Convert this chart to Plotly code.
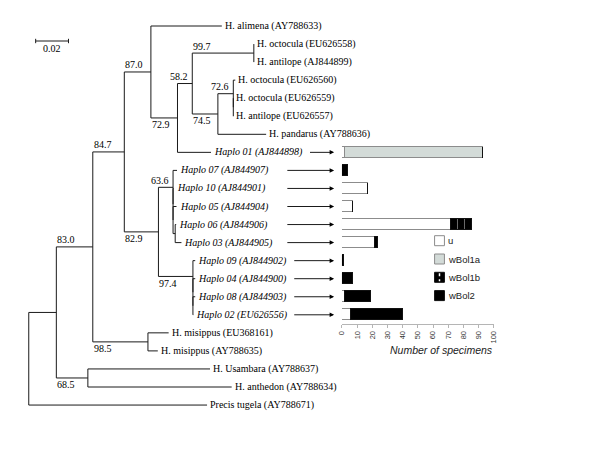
import plotly.graph_objects as go

# ---------------- data ----------------
# tip labels (accession -> taxon name)
SPECIES = {
    'AY788633': 'H. alimena', 'EU626558': 'H. octocula', 'AJ844899': 'H. antilope',
    'EU626560': 'H. octocula', 'EU626559': 'H. octocula', 'EU626557': 'H. antilope',
    'AY788636': 'H. pandarus', 'AJ844898': 'Haplo 01', 'AJ844907': 'Haplo 07',
    'AJ844901': 'Haplo 10', 'AJ844904': 'Haplo 05', 'AJ844906': 'Haplo 06',
    'AJ844905': 'Haplo 03', 'AJ844902': 'Haplo 09', 'AJ844900': 'Haplo 04',
    'AJ844903': 'Haplo 08', 'EU626556': 'Haplo 02', 'EU368161': 'H. misippus',
    'AY788635': 'H. misippus', 'AY788637': 'H. Usambara', 'AY788634': 'H. anthedon',
    'AY788671': 'Precis tugela',
}

# tree (Newick, branch lengths in substitutions/site, internal labels = bootstrap support)
CLADE_O = "(EU626558:0,AJ844899:0)99.7"
CLADE_Q = "(EU626560:0.0012,(EU626559:0,EU626557:0):0)72.6"
CLADE_P = "(" + CLADE_Q + ":0.0094,AY788636:0.0294)74.5"
CLADE_N = "(" + CLADE_O + ":0.0375," + CLADE_P + ":0.0156)58.2"
CLADE_G = "(" + CLADE_N + ":0.009,AJ844898:0.0204)72.9"
CLADE_E = "(AY788633:0.0432," + CLADE_G + ":0.0162)87.0"
CLADE_H = "(AJ844907:0.0024,(AJ844901:0.0003,(AJ844904:0.0021,(AJ844906:0.0006,AJ844905:0.0038):0.0013):0):0)63.6"
CLADE_J = "(AJ844902:0.0014,(AJ844900:0.0014,(AJ844903:0.0014,EU626556:0.0002):0):0)97.4"
CLADE_F = "(" + CLADE_H + ":0.0089," + CLADE_J + ":0.021)82.9"
CLADE_D = "(" + CLADE_E + ":0.0162," + CLADE_F + ":0.0208)84.7"
CLADE_M = "(EU368161:0.0126,AY788635:0.006)98.5"
CLADE_C = "(" + CLADE_D + ":0.0192," + CLADE_M + ":0.0336)83.0"
CLADE_K = "(AY788637:0.0744,AY788634:0.0876)68.5"
CLADE_B = "(" + CLADE_C + ":0.0222," + CLADE_K + ":0.0192)"
NEWICK = "(" + CLADE_B + ":0.0168,AY788671:0.1086);"
SCALE_LEN = 0.02

# Wolbachia infection per haplotype (number of specimens)
HAPLOS = ['Haplo 01', 'Haplo 07', 'Haplo 10', 'Haplo 05', 'Haplo 06',
          'Haplo 03', 'Haplo 09', 'Haplo 04', 'Haplo 08', 'Haplo 02']
HAPLO_ACC = ['AJ844898', 'AJ844907', 'AJ844901', 'AJ844904', 'AJ844906',
             'AJ844905', 'AJ844902', 'AJ844900', 'AJ844903', 'EU626556']
SERIES = ['u', 'wBol1a', 'wBol1b', 'wBol2']
U_VALS = [2, 0, 17, 7, 72, 22, 0, 0, 2, 6]
WBOL1A_VALS = [91, 0, 0, 0, 0, 0, 0, 0, 0, 0]
WBOL1B_VALS = [0, 0, 0, 0, 14, 0, 0, 0, 0, 0]
WBOL2_VALS = [0, 4, 0, 0, 0, 2, 1, 7, 17, 34]
X_TICKS = [0, 10, 20, 30, 40, 50, 60, 70, 80, 90, 100]

# ---------------- styles / geometry ----------------
W, H = 600, 450
OFF = 8                # page body margin: page px = figure px + OFF
PX = 0.0006            # distance units per pixel (scale bar 0.02 = ~33 px)
ROOT_PX = 24           # page px of the root
ROW0, ROWH = 26, 18.05 # page px of first tip row, row spacing
SERIF = 'Liberation Serif, Times New Roman, serif'
SANS = 'Liberation Sans, Arial, sans-serif'
COLORS = {'u': 'white', 'wBol1a': '#d3dbd8', 'wBol1b': 'black', 'wBol2': 'black'}
EDGES = {'u': '#8c8c8c', 'wBol1a': '#8c8c8c', 'wBol1b': '#111', 'wBol2': '#111'}
ARROW_START_PX = {'Haplo 01': 308, 'Haplo 07': 285, 'Haplo 10': 285, 'Haplo 05': 285,
                  'Haplo 06': 285, 'Haplo 03': 285, 'Haplo 09': 292, 'Haplo 04': 292,
                  'Haplo 08': 292, 'Haplo 02': 292}
ARROW_END_PX = 334


def px2x(p):
    return (p - ROOT_PX) * PX


def py2row(p):
    return (p - ROW0) / ROWH


def paper_x(p):
    return (p - OFF) / W


def paper_y(p):
    return 1 - (p - OFF) / H


def parse_newick(s):
    s = s.strip().rstrip(';')
    pos = 0

    def node():
        nonlocal pos
        n = {'children': [], 'name': '', 'bl': 0.0}
        if s[pos] == '(':
            pos += 1
            while True:
                n['children'].append(node())
                if s[pos] == ',':
                    pos += 1
                    continue
                pos += 1  # ')'
                break
        st = pos
        while pos < len(s) and s[pos] not in ',():':
            pos += 1
        n['name'] = s[st:pos]
        if pos < len(s) and s[pos] == ':':
            pos += 1
            st = pos
            while pos < len(s) and s[pos] not in ',()':
                pos += 1
            n['bl'] = float(s[st:pos])
        return n
    return node()


root = parse_newick(NEWICK)
tips = []


def place(n, x0):
    n['x'] = x0 + n['bl']
    if not n['children']:
        n['y'] = len(tips)
        tips.append(n)
    else:
        for c in n['children']:
            place(c, n['x'])
        n['y'] = (n['children'][0]['y'] + n['children'][-1]['y']) / 2


place(root, 0.0)
row_of = {t['name']: t['y'] for t in tips}

lx, ly = [], []
annotations = []


def collect(n):
    if not n['children']:
        return
    ys = [c['y'] for c in n['children']]
    lx.extend([n['x'], n['x'], None])
    ly.extend([min(ys), max(ys), None])
    for i, c in enumerate(n['children']):
        lx.extend([n['x'], c['x'], None])
        ly.extend([c['y'], c['y'], None])
        if c['children'] and c['name']:
            short = (c['x'] - n['x']) / PX < 20
            annotations.append(dict(
                x=c['x'] if short else n['x'], y=c['y'], xref='x', yref='y',
                text=c['name'], showarrow=False,
                xanchor='right' if short else 'left', yanchor='middle',
                xshift=-2 if short else -1, yshift=7 if i == 0 else -7,
                font=dict(family=SERIF, size=10, color='black')))
        collect(c)


collect(root)

# tip labels
for t in tips:
    name = SPECIES[t['name']]
    label = f"{name} ({t['name']})"
    if name.startswith('Haplo'):
        label = f"<i>{label}</i>"
    annotations.append(dict(x=t['x'], y=t['y'], xref='x', yref='y', text=label,
                            showarrow=False, xanchor='left', yanchor='middle', xshift=1,
                            font=dict(family=SERIF, size=10, color='black')))

# arrows from tip labels to bars
for h, acc in zip(HAPLOS, HAPLO_ACC):
    annotations.append(dict(
        x=px2x(ARROW_END_PX), y=row_of[acc], xref='x', yref='y',
        ax=px2x(ARROW_START_PX[h]), ay=row_of[acc], axref='x', ayref='y',
        text='', showarrow=True, arrowhead=2, arrowsize=1, arrowwidth=0.9,
        arrowcolor='black', standoff=0, startstandoff=0))

fig = go.Figure()

# tree branches
fig.add_trace(go.Scatter(x=lx, y=ly, mode='lines', line=dict(color='#1a1a1a', width=1),
                         hoverinfo='skip', showlegend=False))

# scale bar
sb_x0 = px2x(31)
sb_y = py2row(41)
tk = 2.2 / ROWH
fig.add_trace(go.Scatter(
    x=[sb_x0, sb_x0 + SCALE_LEN, None, sb_x0, sb_x0, None, sb_x0 + SCALE_LEN, sb_x0 + SCALE_LEN],
    y=[sb_y, sb_y, None, sb_y - tk, sb_y + tk, None, sb_y - tk, sb_y + tk],
    mode='lines', line=dict(color='#1a1a1a', width=1), hoverinfo='skip', showlegend=False))
annotations.append(dict(x=sb_x0 + SCALE_LEN / 2, y=sb_y, xref='x', yref='y', text=f"{SCALE_LEN}",
                        showarrow=False, yanchor='middle', yshift=-7.5,
                        font=dict(family=SERIF, size=10, color='black')))

# stacked bars
bar_rows = [row_of[a] for a in HAPLO_ACC]
vals = {'u': U_VALS, 'wBol1a': WBOL1A_VALS, 'wBol1b': WBOL1B_VALS, 'wBol2': WBOL2_VALS}
for s in SERIES:
    marker = dict(color=COLORS[s], line=dict(color=EDGES[s], width=1))
    if s == 'wBol1b':
        marker['pattern'] = dict(shape='|', fgcolor='white', size=7, solidity=0.12)
    fig.add_trace(go.Bar(x=vals[s], y=bar_rows, orientation='h', name=s, width=0.62,
                         marker=marker, xaxis='x2', yaxis='y', showlegend=False,
                         hoverinfo='skip'))

# custom legend
shapes = []
LEG_X, LEG_Y0, LEG_DY, SW = 436, 240.7, 18.3, 10
for i, s in enumerate(SERIES):
    cy = LEG_Y0 + i * LEG_DY
    shapes.append(dict(type='rect', xref='paper', yref='paper',
                       x0=paper_x(LEG_X), x1=paper_x(LEG_X + SW),
                       y0=paper_y(cy - SW / 2), y1=paper_y(cy + SW / 2),
                       fillcolor=COLORS[s], line=dict(color=EDGES[s], width=1)))
    if s == 'wBol1b':
        shapes.append(dict(type='line', xref='paper', yref='paper',
                           x0=paper_x(LEG_X + SW / 2), x1=paper_x(LEG_X + SW / 2),
                           y0=paper_y(cy - SW / 2 + 1), y1=paper_y(cy + SW / 2 - 1),
                           line=dict(color='white', width=1.5, dash='dot')))
    annotations.append(dict(x=paper_x(LEG_X + SW + 2), y=paper_y(cy), xref='paper', yref='paper',
                            text=s, showarrow=False, xanchor='left', yanchor='middle',
                            font=dict(family=SANS, size=9.5, color='#222')))

annotations.append(dict(x=paper_x(497), y=paper_y(350), xref='paper', yref='paper',
                        text='<i>Number of specimens</i>', showarrow=False,
                        xanchor='right', yanchor='middle',
                        font=dict(family=SANS, size=10.5, color='#222')))

fig.update_layout(
    width=W, height=H, margin=dict(l=0, r=0, t=0, b=0),
    paper_bgcolor='white', plot_bgcolor='white', barmode='stack', bargap=0,
    showlegend=False,
    xaxis=dict(domain=[0, 1], range=[px2x(OFF), px2x(OFF + W)], visible=False),
    yaxis=dict(domain=[0, 1], range=[py2row(OFF + H), py2row(OFF)], visible=False),
    xaxis2=dict(domain=[paper_x(342), paper_x(496)], range=[0, 100], anchor='free',
                position=paper_y(324), showline=True, linecolor='#b5b5b5', linewidth=1,
                ticks='outside', ticklen=3, tickcolor='#b5b5b5', tickvals=X_TICKS,
                tickangle=-90, tickfont=dict(family=SANS, size=7.5, color='#333'),
                showgrid=False, zeroline=False),
    annotations=annotations, shapes=shapes,
)

fig.write_html("out.html")
